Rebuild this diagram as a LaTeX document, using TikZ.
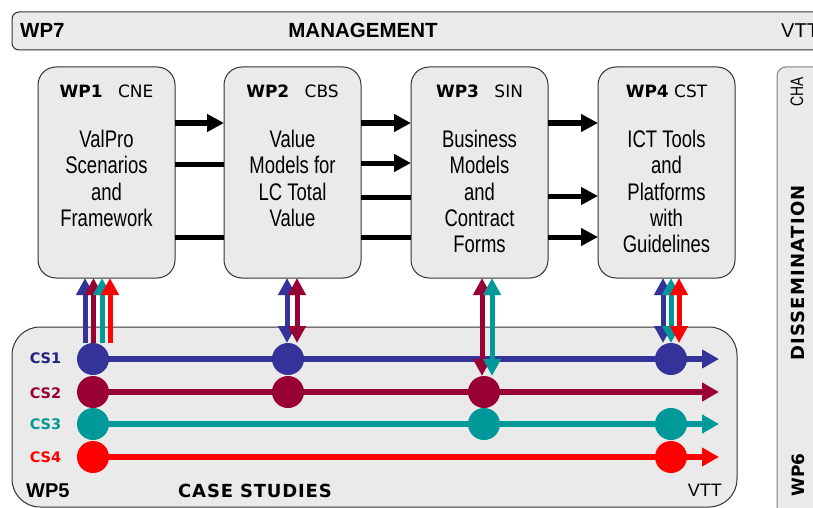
\documentclass[tikz,border=0pt]{standalone}
\usepackage{fontspec}
\setmainfont{Liberation Sans}
\newfontfamily\verd{DejaVu Sans}
\newfontfamily\narrow[FakeStretch=0.77]{Liberation Sans}
\usetikzlibrary{arrows.meta}
\definecolor{cblue}{HTML}{333399}
\definecolor{cmaroon}{HTML}{990033}
\definecolor{cteal}{HTML}{009999}
\definecolor{cred}{HTML}{FF0000}
\definecolor{cnavy}{HTML}{202080}
\definecolor{boxfill}{HTML}{EAEAEA}
\definecolor{edge}{HTML}{333333}
\pgfdeclarelayer{boxes}
\pgfdeclarelayer{wires}
\pgfsetlayers{boxes,wires,main}
\tikzset{
  panel/.style={draw=edge, line width=1pt, fill=boxfill, inner sep=0pt, outer sep=0pt},
  wpbox/.style={panel, rounded corners=18pt, minimum width=137pt, minimum height=211pt, anchor=north west},
  hdr/.style={font=\verd\fontsize{17}{20}\selectfont, inner sep=0pt, anchor=base},
  body/.style={font=\narrow\fontsize{24}{26.3}\selectfont, align=center, inner sep=0pt, anchor=north},
  conn/.style={line width=5pt, black},
  arr/.style={-{Triangle[length=17pt,width=17pt]}},
  varr/.style={line width=5pt, -{Triangle[length=17pt,width=17pt]}},
  dvarr/.style={line width=5pt, {Triangle[length=17pt,width=17pt]}-{Triangle[length=17pt,width=17pt]}},
  csline/.style={line width=6pt, -{Triangle[length=17pt,width=18pt]}},
  dot/.style={circle, minimum size=32pt, inner sep=0pt, outer sep=0pt},
  cslab/.style={font=\verd\bfseries\fontsize{14.5}{16}\selectfont, inner sep=0pt, anchor=base},
  sidetxt/.style={rotate=90, inner sep=0pt}
}
\begin{document}
\begin{tikzpicture}[x=1pt,y=-1pt]
\useasboundingbox (0,0) rectangle (813,508);
\begin{pgfonlayer}{boxes}
  \node[panel, rounded corners=7pt, minimum width=840pt, minimum height=38pt, anchor=north west] (wp7) at (12,12) {};
  \node[wpbox] (wp1) at (38,67) {};
  \node[wpbox] (wp2) at (224,67) {};
  \node[wpbox] (wp3) at (411,67) {};
  \node[wpbox] (wp4) at (598,67) {};
  \node[panel, draw=gray, rounded corners=9pt, minimum width=80pt, minimum height=470pt, anchor=north west] (wp6) at (777,67) {};
  \node[panel, rounded corners=28pt, minimum width=725pt, minimum height=180pt, anchor=north west] (wp5) at (12,327) {};
\end{pgfonlayer}

% management texts
\node[font=\bfseries\fontsize{20.5}{24}\selectfont, inner sep=0pt, anchor=base west] (t7a) at (20,38) {WP7};
\node[font=\bfseries\fontsize{20.5}{24}\selectfont, inner sep=0pt, anchor=base] (t7b) at (363,38) {MANAGEMENT};
\node[font=\fontsize{20}{24}\selectfont, inner sep=0pt, anchor=base west] (t7c) at (781,38) {VTT};

% WP headers
\node[hdr] (h1) at (106.5,98) {\textbf{WP1}\hspace{10pt} CNE};
\node[hdr] (h2) at (292.5,98) {\textbf{WP2}\hspace{10pt} CBS};
\node[hdr] (h3) at (479.5,98) {\textbf{WP3}\hspace{10pt} SIN};
\node[hdr] (h4) at (666.5,98) {\textbf{WP4} CST};

% WP bodies
\node[body] (b1) at (106.5,130) {ValPro\\Scenarios\\and\\Framework};
\node[body] (b2) at (292.5,130) {Value\\Models for\\LC Total\\Value};
\node[body] (b3) at (479.5,130) {Business\\Models\\and\\Contract\\Forms};
\node[body] (b4) at (666.5,130) {ICT Tools\\and\\Platforms\\with\\Guidelines};

% dissemination column
\node[sidetxt, font=\narrow\fontsize{18}{20}\selectfont] (cha) at (797,92) {CHA};
\node[sidetxt, font=\verd\bfseries\fontsize{18}{20}\selectfont\addfontfeature{LetterSpace=7}] (dis) at (798,273) {DISSEMINATION};
\node[sidetxt, font=\verd\bfseries\fontsize{17}{20}\selectfont] (wp6t) at (798,475) {WP6};

% case studies texts
\node[font=\bfseries\fontsize{20}{24}\selectfont, inner sep=0pt, anchor=base west] (t5a) at (26,497) {WP5};
\node[font=\verd\bfseries\fontsize{18}{20}\selectfont\addfontfeature{LetterSpace=4.5}, inner sep=0pt, anchor=base] (t5b) at (255,497) {CASE STUDIES};
\node[font=\fontsize{18}{22}\selectfont, inner sep=0pt, anchor=base east] (t5c) at (722,496) {VTT};

\node[cslab, text=cnavy] (l1) at (45.5,363.5) {CS1};
\node[cslab, text=cmaroon] (l2) at (45.5,398) {CS2};
\node[cslab, text=cteal] (l3) at (45.5,429) {CS3};
\node[cslab, text=cred] (l4) at (45.5,462) {CS4};

% circles
\node[dot, fill=cblue] (c1a) at (93,359) {};
\node[dot, fill=cblue] (c1b) at (288,359) {};
\node[dot, fill=cblue] (c1d) at (671,359) {};
\node[dot, fill=cmaroon] (c2a) at (93,392) {};
\node[dot, fill=cmaroon] (c2b) at (288,392) {};
\node[dot, fill=cmaroon] (c2c) at (484,392) {};
\node[dot, fill=cteal] (c3a) at (93,424) {};
\node[dot, fill=cteal] (c3c) at (484,424) {};
\node[dot, fill=cteal] (c3d) at (671,424) {};
\node[dot, fill=cred] (c4a) at (93,457) {};
\node[dot, fill=cred] (c4d) at (671,457) {};

\coordinate (e1) at (719,359);
\coordinate (e2) at (719,392);
\coordinate (e3) at (719,424);
\coordinate (e4) at (719,457);

\begin{pgfonlayer}{wires}
  % WP to WP connectors
  \draw[conn,arr] (wp1.east |- 0,123) -- (wp2.west |- 0,123);
  \draw[conn] (wp1.east |- 0,164) -- (wp2.west |- 0,164);
  \draw[conn] (wp1.east |- 0,237) -- (wp2.west |- 0,237);
  \draw[conn,arr] (wp2.east |- 0,123) -- (wp3.west |- 0,123);
  \draw[conn,arr] (wp2.east |- 0,163) -- (wp3.west |- 0,163);
  \draw[conn] (wp2.east |- 0,197) -- (wp3.west |- 0,197);
  \draw[conn] (wp2.east |- 0,237) -- (wp3.west |- 0,237);
  \draw[conn,arr] (wp3.east |- 0,123) -- (wp4.west |- 0,123);
  \draw[conn,arr] (wp3.east |- 0,196) -- (wp4.west |- 0,196);
  \draw[conn,arr] (wp3.east |- 0,237) -- (wp4.west |- 0,237);
  % case study lines
  \draw[csline, cblue] (c1a.center) -- (e1);
  \draw[csline, cmaroon] (c2a.center) -- (e2);
  \draw[csline, cteal] (c3a.center) -- (e3);
  \draw[csline, cred] (c4a.center) -- (e4);
  % vertical arrows to WP1
  \draw[varr, cblue] (c1a.north -| 85,0) -- (wp1.south -| 85,0);
  \draw[varr, cmaroon] (c1a.north -| 93.5,0) -- (wp1.south -| 93.5,0);
  \draw[varr, cteal] (c1a.north -| 102,0) -- (wp1.south -| 102,0);
  \draw[varr, cred] (c1a.north -| 110,0) -- (wp1.south -| 110,0);
  % WP2
  \draw[dvarr, cblue] (c1b.north -| 287,0) -- (wp2.south -| 287,0);
  \draw[dvarr, cmaroon] (c1b.north -| 297,0) -- (wp2.south -| 297,0);
  % WP3
  \draw[dvarr, cmaroon] (c2c.north -| 482,0) -- (wp3.south -| 482,0);
  \draw[dvarr, cteal] (c2c.north -| 492,0) -- (wp3.south -| 492,0);
  % WP4
  \draw[dvarr, cblue] (c1d.north -| 663,0) -- (wp4.south -| 663,0);
  \draw[dvarr, cteal] (c1d.north -| 671,0) -- (wp4.south -| 671,0);
  \draw[dvarr, cred] (c1d.north -| 679,0) -- (wp4.south -| 679,0);
\end{pgfonlayer}
\end{tikzpicture}
\end{document}
